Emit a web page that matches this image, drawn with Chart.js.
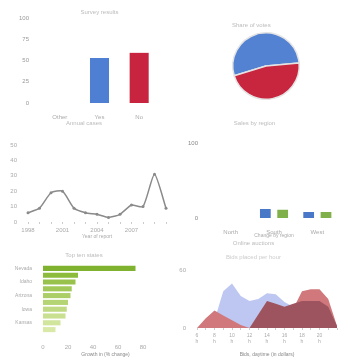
<!DOCTYPE html>
<html>
<head>
<meta charset="utf-8">
<script src="https://cdn.jsdelivr.net/npm/chart.js@4.4.0/dist/chart.umd.min.js"></script>
<style>
  html, body { margin: 0; padding: 0; background: #fff; }
  #wrap { position: relative; width: 339px; height: 359px; overflow: hidden; }
  canvas { position: absolute; }
</style>
</head>
<body>
<div id="wrap">
  <canvas id="barChart" width="170" height="120" style="left:0;top:0"></canvas>
  <canvas id="pieChart" width="169" height="120" style="left:170px;top:0"></canvas>
  <canvas id="lineChart" width="170" height="120" style="left:0;top:120px"></canvas>
  <canvas id="groupChart" width="169" height="120" style="left:170px;top:120px"></canvas>
  <canvas id="hbarChart" width="170" height="119" style="left:0;top:240px"></canvas>
  <canvas id="areaChart" width="169" height="119" style="left:170px;top:240px"></canvas>
</div>
<script>
// data
const barLabels = ['Other', 'Yes', 'No'];
const barValues = [null, 53, 59];

const pieLabels = ['Yes', 'No'];
const pieValues = [53.3, 46.7];

const lineLabels = ['1998', '1999', '2000', '2001', '2002', '2003', '2004', '2005', '2006', '2007', '2008', '2009', '2010'];
const lineValues = [6, 9, 19, 20, 9, 6, 5, 3, 5, 11, 10, 31, 9];

const groupLabels = ['North', 'South', 'West'];
const groupBlue = [0, 12, 8];
const groupGreen = [0, 11, 8];

const hbarLabels = ['Nevada', 'Utah', 'Idaho', 'Texas', 'Arizona', 'Ohio', 'Iowa', 'Maine', 'Kansas', 'Alaska'];
const hbarValues = [74, 28, 26, 23, 22, 20, 19, 18, 14, 10];

const areaLabels = ['6', '7', '8', '9', '10', '11', '12', '13', '14', '15', '16', '17', '18', '19', '20', '21', '22'];
const areaBlue = [0, 0, 8, 38, 46, 33, 28, 30, 36, 35, 27, 22, 15, 10, 5, 0, 0];
const areaPink = [0, 10, 18, 13, 8, 3, 0, 0, 0, 0, 0, 20, 38, 40, 40, 30, 2];
const areaMaroon = [0, 0, 0, 0, 0, 0, 0, 14, 28, 25, 22, 25, 28, 28, 28, 22, 2];

Chart.defaults.font.family = 'Liberation Sans';
Chart.defaults.font.size = 6;
Chart.defaults.color = '#aaa';
Chart.defaults.animation = false;
Chart.defaults.responsive = false;
Chart.defaults.plugins.legend.display = false;
Chart.defaults.plugins.tooltip.enabled = false;

const fixWidth = w => s => { s.width = w; };
// x axes: fixed height and no extra side padding from the end labels
const fixHeight = h => s => { s.height = h; s.paddingLeft = 0; s.paddingRight = 0; };

function titleOpts(text, top, bottom, extra) {
    return Object.assign({ display: true, text: text, font: { size: 6, weight: 'normal' }, color: '#bbb', padding: { top: top, bottom: bottom } }, extra || {});
}

// 1: simple bars
new Chart(document.getElementById('barChart'), {
    type: 'bar',
    data: {
        labels: barLabels,
        datasets: [{
            data: barValues,
            backgroundColor: ['#4f7fd3', '#4f7fd3', '#c8243f'],
            categoryPercentage: 0.8,
            barPercentage: 0.6
        }]
    },
    options: {
        layout: { padding: { right: 11 } },
        plugins: { title: titleOpts('Survey results', 8.4, 2.4, { fullSize: false }) },
        scales: {
            y: { min: 0, max: 100, ticks: { stepSize: 25, color: '#999' }, grid: { display: false }, border: { display: false }, afterFit: fixWidth(40) },
            x: { grid: { display: false }, border: { display: false }, afterFit: fixHeight(17) }
        }
    }
});

// 2: pie
new Chart(document.getElementById('pieChart'), {
    type: 'pie',
    data: {
        labels: pieLabels,
        datasets: [{
            data: pieValues,
            backgroundColor: ['#5482d2', '#c8253f'],
            borderColor: '#e4e4e4',
            borderWidth: 1.5
        }]
    },
    options: {
        rotation: 253,
        layout: { padding: { left: 62, right: 39, top: 20, bottom: 20 } },
        plugins: { title: titleOpts('Share of votes', 2, 2.8, { align: 'start' }) }
    }
});

// 3: line
new Chart(document.getElementById('lineChart'), {
    type: 'line',
    data: {
        labels: lineLabels,
        datasets: [{
            data: lineValues,
            borderColor: '#8a8a8a',
            borderWidth: 1.5,
            pointRadius: 1.5,
            pointBackgroundColor: '#8a8a8a',
            pointBorderWidth: 0,
            tension: 0.2
        }]
    },
    options: {
        layout: { padding: { right: 2 } },
        plugins: { title: titleOpts('Annual cases', 0, 17.8) },
        scales: {
            y: { min: 0, max: 50, ticks: { stepSize: 10 }, grid: { display: false }, border: { display: false }, afterFit: fixWidth(28) },
            x: { offset: false, grid: { drawOnChartArea: false, tickLength: 2, color: '#ccc' }, border: { display: false }, ticks: { maxRotation: 0, autoSkip: false, callback: function (v, i) { return (i % 3 || i === lineLabels.length - 1) ? '' : this.getLabelForValue(v); } }, title: { display: true, text: 'Year of report', padding: 0, font: { size: 5 } }, afterFit: fixHeight(18) }
        }
    }
});

// 4: grouped bars
new Chart(document.getElementById('groupChart'), {
    type: 'bar',
    data: {
        labels: groupLabels,
        datasets: [
            { label: '2011', data: groupBlue, backgroundColor: '#4a78c8', categoryPercentage: 0.8, barPercentage: 0.62 },
            { label: '2012', data: groupGreen, backgroundColor: '#7fb04a', categoryPercentage: 0.8, barPercentage: 0.62 }
        ]
    },
    options: {
        layout: { padding: { right: 0 } },
        plugins: { title: titleOpts('Sales by region', 0, 15.8) },
        scales: {
            y: { min: 0, max: 100, ticks: { stepSize: 100, color: '#888' }, grid: { display: false }, border: { display: false }, afterFit: fixWidth(39) },
            x: { grid: { display: false }, border: { display: false }, title: { display: true, text: 'Change by region', padding: 1, font: { size: 5 } }, afterFit: fixHeight(22) }
        }
    }
});

// 5: horizontal bars
const hbarColors = ['#7fb22e', '#8dbb3c', '#98c24b', '#a2c858', '#acce66', '#b5d473', '#bfda82', '#c8e08f', '#d1e59c', '#d9eaa8'];
new Chart(document.getElementById('hbarChart'), {
    type: 'bar',
    data: {
        labels: hbarLabels,
        datasets: [{ data: hbarValues, backgroundColor: hbarColors, categoryPercentage: 1, barPercentage: 0.75 }]
    },
    options: {
        indexAxis: 'y',
        layout: { padding: { right: 2 } },
        plugins: { title: titleOpts('Top ten states', 11.4, 6.4) },
        scales: {
            y: { grid: { display: false }, border: { display: false }, ticks: { font: { size: 5 } }, afterFit: fixWidth(43) },
            x: { min: 0, max: 100, ticks: { stepSize: 20, callback: v => v === 100 ? '' : v }, grid: { display: false }, border: { display: false }, title: { display: true, text: 'Growth in (% change)', color: '#888', padding: 1, font: { size: 5 } }, afterFit: fixHeight(26) }
        }
    }
});

// 6: overlapping areas
new Chart(document.getElementById('areaChart'), {
    type: 'line',
    data: {
        labels: areaLabels,
        datasets: [
            { label: 'Weekday', data: areaBlue, fill: 'origin', backgroundColor: 'rgba(185,196,240,0.95)', borderWidth: 0, pointRadius: 0, order: 3 },
            { label: 'Saturday', data: areaPink, fill: 'origin', backgroundColor: 'rgb(208,120,124)', borderWidth: 0, pointRadius: 0, order: 2 },
            { label: 'Sunday', data: areaMaroon, fill: 'origin', backgroundColor: 'rgb(158,84,94)', borderWidth: 0, pointRadius: 0, order: 1 }
        ]
    },
    options: {
        layout: { padding: { right: 2 } },
        plugins: {
            title: titleOpts('Online auctions', 0, 6.8),
            subtitle: { display: true, text: 'Bids placed per hour', font: { size: 6 }, color: '#ccc', padding: { top: 0, bottom: 8.8 } }
        },
        scales: {
            y: { min: 0, max: 60, ticks: { stepSize: 60 }, grid: { display: false }, border: { display: false }, afterFit: fixWidth(27) },
            x: { offset: false, grid: { drawOnChartArea: false, tickLength: 2, color: '#ccc' }, border: { display: false },
                ticks: { maxRotation: 0, autoSkip: false, font: { size: 5 }, callback: function (v, i) { return (i % 2 || i === areaLabels.length - 1) ? '' : [this.getLabelForValue(v), 'h']; } },
                title: { display: true, text: 'Bids, daytime (in dollars)', color: '#888', padding: 1, font: { size: 5 } }, afterFit: fixHeight(31) }
        }
    }
});
</script>
</body>
</html>
